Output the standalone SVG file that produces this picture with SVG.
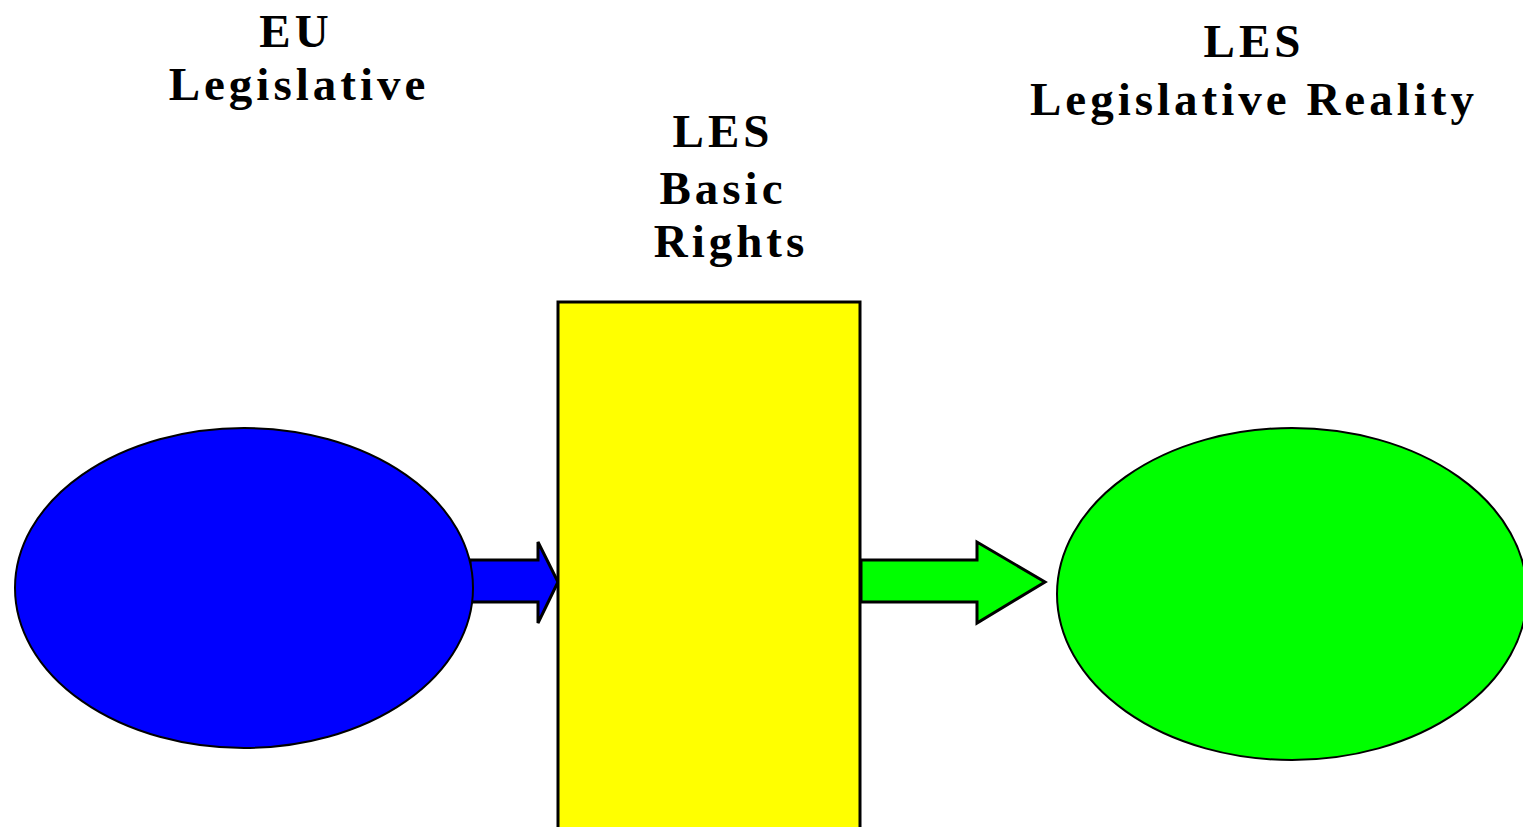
<svg xmlns="http://www.w3.org/2000/svg" width="1523" height="827" viewBox="0 0 1523 827">
<style>
.t{font-family:"Liberation Serif","Times New Roman",serif;font-weight:bold;font-size:47px;letter-spacing:4px;fill:#000;text-anchor:middle}
.sh{stroke:#000;stroke-width:3;stroke-linejoin:miter}
</style>
<rect width="1523" height="827" fill="#fff"/>
<g id="connectors">
<path class="sh" fill="#0000FF" d="M470,560 H538 V542 L558,582 L538,623 V602 H470 Z"/>
<path class="sh" fill="#00FF00" d="M861,560 H977 V542 L1045,582 L977,623 V602 H861 Z"/>
</g>
<g id="eu-legislative">
<ellipse cx="244" cy="588" rx="229" ry="160" fill="#0000FF" stroke="#000" stroke-width="2"/>
<text class="t" x="296" y="47">EU</text>
<text class="t" x="299" y="100">Legislative</text>
</g>
<g id="les-basic-rights">
<rect x="558" y="302" width="302" height="540" fill="#FFFF00" stroke="#000" stroke-width="3"/>
<text class="t" x="723" y="147">LES</text>
<text class="t" x="723" y="204">Basic</text>
<text class="t" x="731" y="257">Rights</text>
</g>
<g id="les-legislative-reality">
<ellipse cx="1292" cy="594" rx="235" ry="166" fill="#00FF00" stroke="#000" stroke-width="2"/>
<text class="t" x="1254" y="57">LES</text>
<text class="t" x="1254" y="115">Legislative Reality</text>
</g>
</svg>
